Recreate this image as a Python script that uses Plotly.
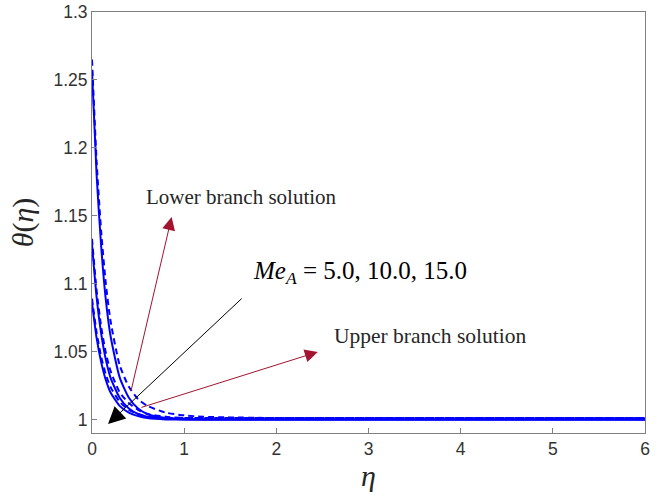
import plotly.graph_objects as go

eta = [0, 0.05, 0.1, 0.15, 0.2, 0.3, 0.4, 0.5, 0.6, 0.8, 1.0, 1.2, 1.5, 2, 3, 4, 5, 6]

# Dashed curves (lower branch)
theta_d1 = [1.265, 1.190, 1.138, 1.100, 1.073, 1.040, 1.024, 1.015, 1.010, 1.005, 1.003, 1.002, 1.0015, 1.001, 1.001, 1.001, 1.001, 1.001]
theta_d2 = [1.133, 1.095, 1.068, 1.049, 1.036, 1.020, 1.012, 1.007, 1.004, 1.002, 1.001, 1.001, 1.001, 1.001, 1.001, 1.001, 1.001, 1.001]
theta_d3 = [1.089, 1.064, 1.046, 1.033, 1.024, 1.013, 1.007, 1.004, 1.002, 1.001, 1.001, 1.001, 1.001, 1.001, 1.001, 1.001, 1.001, 1.001]
# Solid curves (upper branch)
theta_s1 = [1.257, 1.180, 1.127, 1.088, 1.062, 1.031, 1.016, 1.008, 1.004, 1.001, 1.0003, 1.0, 1.0, 1.0, 1.0, 1.0, 1.0, 1.0]
theta_s2 = [1.129, 1.090, 1.063, 1.044, 1.031, 1.016, 1.008, 1.004, 1.002, 1.001, 1.0, 1.0, 1.0, 1.0, 1.0, 1.0, 1.0, 1.0]
theta_s3 = [1.086, 1.060, 1.042, 1.029, 1.020, 1.010, 1.005, 1.0025, 1.001, 1.0, 1.0, 1.0, 1.0, 1.0, 1.0, 1.0, 1.0, 1.0]

x_ticks = [0, 1, 2, 3, 4, 5, 6]
y_ticks = [1, 1.05, 1.1, 1.15, 1.2, 1.25, 1.3]
y_tick_labels = ["1", "1.05", "1.1", "1.15", "1.2", "1.25", "1.3"]

fig = go.Figure()
for th in [theta_s1, theta_s2, theta_s3]:
    fig.add_trace(go.Scatter(x=eta, y=th, mode="lines",
                             line=dict(color="#0000FF", width=2, shape="spline", smoothing=0.6),
                             showlegend=False))
for th in [theta_d1, theta_d2, theta_d3]:
    fig.add_trace(go.Scatter(x=eta, y=th, mode="lines",
                             line=dict(color="#0000FF", width=2, dash="6px,4px", shape="spline", smoothing=0.6),
                             showlegend=False))

serif = "Liberation Serif, DejaVu Serif, serif"
red = "#A2142F"

arrows = [
    # (head_x, head_y, tail_x, tail_y, color, size)
    (0.864, 1.149, 0.42, 1.020, red, 2.6),
    (2.45, 1.0497, 0.52, 1.0085, red, 2.6),
    (0.174, 0.9966, 1.64, 1.090, "black", 3.4),
]
for hx, hy, tx, ty, c, s in arrows:
    fig.add_annotation(x=hx, y=hy, ax=tx, ay=ty, xref="x", yref="y", axref="x", ayref="y",
                       text="", showarrow=True, arrowhead=2, arrowsize=s, arrowwidth=1,
                       arrowcolor=c)

fig.add_annotation(x=1.627, y=1.1638, xref="x", yref="y", text="Lower branch solution",
                   showarrow=False, font=dict(family=serif, size=21, color="#262626"))
fig.add_annotation(x=3.677, y=1.0614, xref="x", yref="y", text="Upper branch solution",
                   showarrow=False, font=dict(family=serif, size=21.5, color="#262626"))
fig.add_annotation(x=2.91, y=1.1085, xref="x", yref="y",
                   text="<i>Me</i><sub><i>A</i></sub> = 5.0, 10.0, 15.0",
                   showarrow=False, font=dict(family=serif, size=25, color="#000000"))

axis_common = dict(showline=True, linecolor="#808080", linewidth=1, mirror=True,
                   ticks="inside", ticklen=5, tickcolor="#808080", showgrid=False,
                   zeroline=False, automargin=False, ticklabeloverflow="allow",
                   tickfont=dict(family="Liberation Sans, Arial, sans-serif", size=17.5, color="#333333"))

fig.update_layout(
    width=662, height=500,
    margin=dict(l=92, r=17, t=12, b=67),
    paper_bgcolor="white", plot_bgcolor="white",
    xaxis=dict(range=[0, 6], tickvals=x_ticks, ticktext=[str(v) for v in x_ticks],
               title=dict(text="<i>η</i>", font=dict(family=serif, size=30, color="#262626"), standoff=6),
               **axis_common),
    yaxis=dict(range=[0.99, 1.3], tickvals=y_ticks, ticktext=y_tick_labels,
               title=dict(text="<i>θ</i>(<i>η</i>)", font=dict(family=serif, size=30, color="#262626"), standoff=10),
               **axis_common),
)

# Remove the default page margin so the figure sits at the window's top-left corner.
fig.write_html("out.html", config={"displayModeBar": False},
               post_script="document.body.style.margin='0px';")
